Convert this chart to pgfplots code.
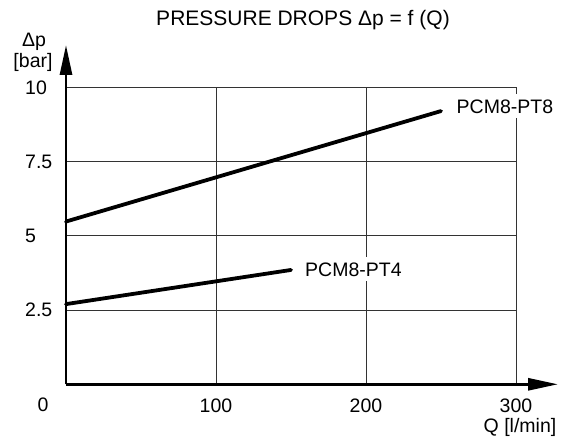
\documentclass[border=0pt]{standalone}
\usepackage{pgfplots}
\pgfplotsset{compat=1.18}
\usepackage{fontspec}
\setmainfont{Liberation Sans}
\usetikzlibrary{arrows.meta}
\newcommand\chartfont{\fontsize{19.5bp}{22bp}\selectfont}
\begin{document}
\begin{tikzpicture}[font=\chartfont]
  % page = 564 x 443 px, axis origin sits at px (66, 384.3)
  \useasboundingbox (-66bp,-58.7bp) rectangle (498bp,384.3bp);
  \begin{axis}[
      anchor=origin, at={(0,0)},
      x=1.5bp, y=29.7bp,
      xmin=0, xmax=300, ymin=0, ymax=10,
      axis line style={line width=0.9bp, black!80},
      grid=major,
      grid style={line width=0.9bp, black!80},
      major tick length=0pt,
      xtick={100,200,300}, xticklabels={100,200,300},
      ytick={2.5,5,7.5,10}, yticklabels={2.5,5,7.5,10},
      ticklabel style={font=\chartfont},
      xticklabel style={anchor=center, yshift=-21.2bp},
      yticklabel style={anchor=west, inner sep=0pt, xshift=-41bp},
      clip=false,
    ]
    \addplot[black, line width=3.8bp, line cap=round] coordinates {(0,5.48) (250,9.2)};
    \addplot[black, line width=3.8bp, line cap=round] coordinates {(0,2.7) (150,3.85)};

    \node[anchor=west, fill=white, inner xsep=2bp, inner ysep=5bp] at (axis cs:259,9.36) {PCM8-PT8};
    \node[anchor=west, fill=white, inner xsep=2bp, inner ysep=5bp] at (axis cs:158,3.87) {PCM8-PT4};
  \end{axis}

  \draw[line width=2.8bp, -{Triangle[length=30bp,width=12bp]}] (0,0) -- (492bp,0);
  \draw[line width=2.8bp, -{Triangle[length=30bp,width=12bp]}] (0,0) -- (0,339.3bp);

  \node[font=\fontsize{21bp}{24bp}\selectfont] at (237bp,364bp) {PRESSURE DROPS Δp = f (Q)};
  \node at (-32bp,342.3bp) {Δp};
  \node at (-33bp,322.3bp) {[bar]};
  \node at (-23bp,-20.7bp) {0};
  \node[anchor=east, inner sep=0pt] at (490.5bp,-43.2bp) {Q [l/min]};
\end{tikzpicture}
\end{document}
